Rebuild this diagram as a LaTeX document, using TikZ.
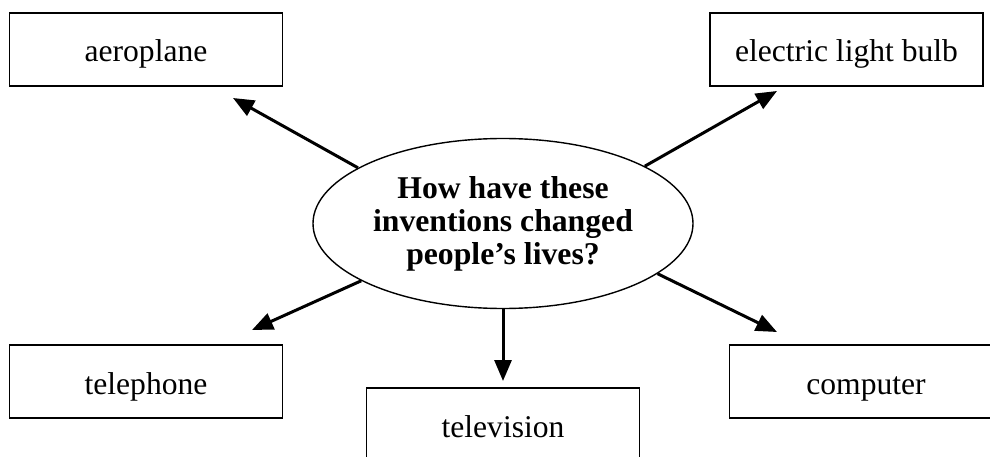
\documentclass[tikz,border=0pt]{standalone}
\usepackage{fontspec}
\setmainfont{Liberation Serif}
\usetikzlibrary{shapes.geometric,arrows.meta}
\tikzset{
  inv/.style={draw=black, line width=1.8pt, minimum width=273pt, minimum height=73pt,
    inner sep=0pt, text height=26pt, text depth=1pt, font=\fontsize{31.6}{33}\selectfont},
  hub/.style={draw=black, ellipse, line width=1.4pt, minimum width=380pt, minimum height=170pt,
    inner sep=0pt, align=center, font=\fontsize{31.7}{33}\selectfont\bfseries},
  arr/.style={line width=3pt, -{Triangle[length=21pt,width=17pt]}}
}
\begin{document}
\begin{tikzpicture}[x=1pt,y=-1pt]
\clip (0,0) rectangle (990,457);
\fill[white] (0,0) rectangle (990,457);
\node[hub] (ell) at (503,223.5) {How have these\\inventions changed\\people’s lives?};
\node[inv] (aero) at (146,49.5) {aeroplane};
\node[inv] (bulb) at (846.5,49.5) {electric light bulb};
\node[inv] (tel) at (146,381.5) {telephone};
\node[inv] (tv) at (503,424.5) {television};
\node[inv] (comp) at (866,381.5) {computer};
\coordinate (taero) at (233,98);
\coordinate (tbulb) at (777,91);
\coordinate (ttel) at (252,330);
\coordinate (ttv) at (503,381);
\coordinate (tcomp) at (777,332);
\draw[arr] (ell.159) -- (taero);
\draw[arr] (ell.22) -- (tbulb);
\draw[arr] (ell.202.5) -- (ttel);
\draw[arr] (ell.south) -- (ttv);
\draw[arr] (ell.342.4) -- (tcomp);
\end{tikzpicture}
\end{document}
